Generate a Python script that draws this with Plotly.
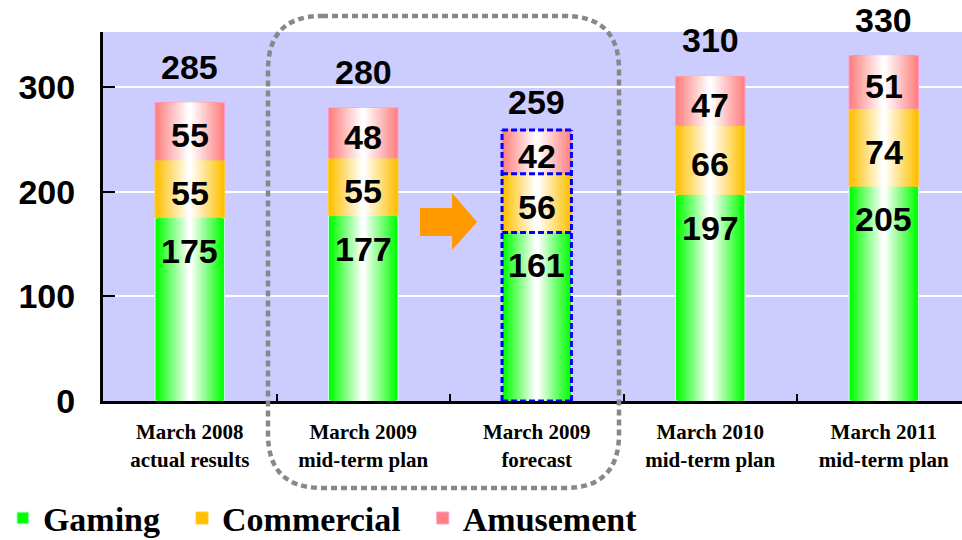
import plotly.graph_objects as go

# Revenue by segment (stacked), five reporting periods
categories = [
    "March 2008<br>actual results",
    "March 2009<br>mid-term plan",
    "March 2009<br>forecast",
    "March 2010<br>mid-term plan",
    "March 2011<br>mid-term plan",
]
gaming = [175, 177, 161, 197, 205]
commercial = [55, 55, 56, 66, 74]
amusement = [55, 48, 42, 47, 51]
totals = [285, 280, 259, 310, 330]
series_names = ["Gaming", "Commercial", "Amusement"]

W, H = 962, 540
ML, MR, MT, MB = 103, 0, 32, 139
PLOT_W = W - ML - MR
PLOT_H = H - MT - MB
X_RANGE = [-0.5, 4.451]
Y_RANGE = [0, 352.5]

BAR_W = 0.4
STEPS = 16
SANS = "Liberation Sans"
SERIF = "Liberation Serif"
NUM_FONT = dict(family=SANS, size=34, color="black", weight="bold")
NBSP = "\u00a0"

edge_colors = [(0, 255, 0), (255, 192, 0), (255, 128, 128)]
outline_colors = ["#ccffee", "#ffcc33", "#ff99cc"]


def mix(c, t):
    r, g, b = (round(v + (255 - v) * t) for v in c)
    return f"rgb({r},{g},{b})"


values = [gaming, commercial, amusement]
bases = [
    [0] * len(gaming),
    gaming[:],
    [g + c for g, c in zip(gaming, commercial)],
]

fig = go.Figure()

# horizontal gradient: nested bars of decreasing width, fading to white
for k in range(STEPS):
    frac = k / (STEPS - 1)
    w = BAR_W * (STEPS - k) / STEPS
    for s in range(3):
        fig.add_trace(go.Bar(
            x=categories, y=values[s], base=bases[s],
            width=[w] * len(categories),
            name=series_names[s] + (NBSP * 2 if s < 2 else ""),
            marker=dict(
                color=mix(edge_colors[s], frac),
                line=dict(width=1 if k == 0 else 0, color=outline_colors[s]),
            ),
            showlegend=(k == 0), legendrank=s,
            hoverinfo="skip",
        ))

annotations = []
for i, cat in enumerate(categories):
    # gaming value sits near the top of its segment
    annotations.append(dict(x=cat, y=gaming[i], text=str(gaming[i]), showarrow=False,
                            yanchor="middle", yshift=-33, font=NUM_FONT))
    for s in (1, 2):
        mid = bases[s][i] + values[s][i] / 2
        annotations.append(dict(x=cat, y=mid, text=str(values[s][i]), showarrow=False,
                                yanchor="middle", yshift=-4, font=NUM_FONT))
    annotations.append(dict(x=cat, y=totals[i], text=str(totals[i]), showarrow=False,
                            yanchor="middle", yshift=28 if i == 2 else 36, font=NUM_FONT))

shapes = []
# dashed blue outline on the forecast column: each line its own subpath,
# all horizontals starting from the left so the dashes line up
FC = 2
x0, x1 = FC - BAR_W / 2, FC + BAR_W / 2
top = totals[FC]
levels = [0, gaming[FC], gaming[FC] + commercial[FC], top]
outline = f"M {x0},0 L {x0},{top} M {x1},0 L {x1},{top} "
outline += " ".join(f"M {x0},{lv} L {x1},{lv}" for lv in levels)
shapes.append(dict(type="path", xref="x", yref="y", path=outline,
                   line=dict(color="#0000ff", width=3, dash="6px,3px"),
                   layer="above"))

# orange arrow between plan and forecast
arrow = [(1.327, 184.4), (1.512, 184.4), (1.512, 198.7), (1.656, 171.0),
         (1.512, 144.3), (1.512, 157.6), (1.327, 157.6)]
shapes.append(dict(type="path", xref="x", yref="y",
                   path="M " + " L ".join(f"{x},{y}" for x, y in arrow) + " Z",
                   fillcolor="#ff9900", line=dict(width=0), layer="above"))


def px2paper(px, py):
    return (px - ML) / PLOT_W, (MT + PLOT_H - py) / PLOT_H


# rounded dotted frame around the two March 2009 columns
L, R, T, B, r = 268, 619, 16, 488, 54
pts = [
    ("M", [(L + r, T)]), ("L", [(R - r, T)]), ("Q", [(R, T), (R, T + r)]),
    ("L", [(R, B - r)]), ("Q", [(R, B), (R - r, B)]), ("L", [(L + r, B)]),
    ("Q", [(L, B), (L, B - r)]), ("L", [(L, T + r)]), ("Q", [(L, T), (L + r, T)]),
]
path = ""
for cmd, ps in pts:
    path += cmd + " " + " ".join("{:.5f},{:.5f}".format(*px2paper(x, y)) for x, y in ps) + " "
path += "Z"
shapes.append(dict(type="path", xref="paper", yref="paper", path=path,
                   line=dict(color="#888888", width=4.5, dash="6px,4px"),
                   layer="above"))

fig.update_layout(
    width=W, height=H,
    margin=dict(l=ML, r=MR, t=MT, b=MB, pad=0),
    barmode="overlay",
    font=dict(family=SERIF, color="black"),
    paper_bgcolor="white",
    plot_bgcolor="#ccccff",
    shapes=shapes,
    annotations=annotations,
    legend=dict(
        orientation="h", xref="container", yref="container",
        x=0.003, y=0.04, xanchor="left", yanchor="middle",
        font=dict(family=SERIF, size=34, color="black", weight="bold"),
        itemclick=False, traceorder="normal",
        bgcolor="rgba(0,0,0,0)",
    ),
    xaxis=dict(
        type="category", range=X_RANGE,
        showline=True, linecolor="black", linewidth=3,
        ticks="inside", tickson="boundaries", ticklen=7, tickwidth=2, tickcolor="black",
        showgrid=False,
        tickfont=dict(family=SERIF, size=21, color="black", weight="bold"),
        ticklabelstandoff=10,
        fixedrange=True,
    ),
    yaxis=dict(
        range=Y_RANGE, tickvals=[0, 100, 200, 300],
        showline=True, linecolor="black", linewidth=3,
        ticks="inside", ticklen=12, tickwidth=2, tickcolor="black",
        showgrid=True, gridcolor="white", gridwidth=2,
        zeroline=False,
        tickfont=dict(family=SANS, size=34, color="black", weight="bold"),
        ticklabelstandoff=18,
        fixedrange=True,
    ),
)

fig.write_html("out.html")
